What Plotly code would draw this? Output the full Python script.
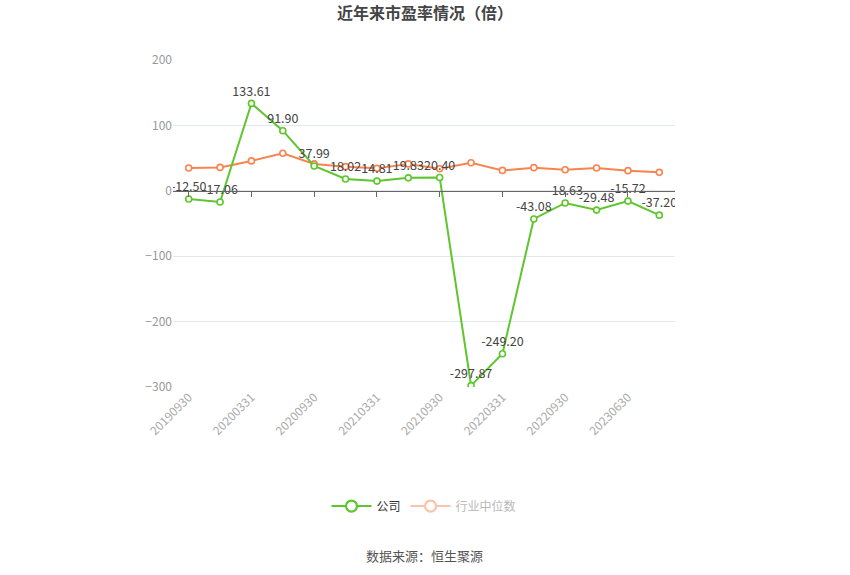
import plotly.graph_objects as go

dates = ["20190930", "20191231", "20200331", "20200630", "20200930", "20201231",
         "20210331", "20210630", "20210930", "20211231", "20220331", "20220630",
         "20220930", "20230331", "20230630", "20230930"]
company = [-12.50, -17.06, 133.61, 91.90, 37.99, 18.02, 14.81, 19.83, 20.40,
           -297.87, -249.20, -43.08, -18.63, -29.48, -15.72, -37.20]
industry = [34.9, 35.8, 45.7, 57.4, 41.1, 36.9, 34.3, 41.1, 33.8, 42.8,
            31.2, 35.4, 32.3, 34.9, 30.8, 28.2]
company_labels = [f"{v:.2f}" for v in company]
tick_labels = dates[::2]

GREEN = "#5dc62c"
ORANGE = "#f9834f"
FONT = "Noto Sans CJK SC"

fig = go.Figure()
fig.add_trace(go.Scatter(
    x=dates, y=industry, mode="lines+markers", name="行业中位数",
    line=dict(color=ORANGE, width=2),
    marker=dict(symbol="circle", size=6, color="white", line=dict(color=ORANGE, width=1.6)),
    showlegend=False, hoverinfo="x+y"))
fig.add_trace(go.Scatter(
    x=dates, y=company, mode="lines+markers+text", name="公司",
    text=company_labels, textposition="top center",
    textfont=dict(color="#444", size=12.5, family=FONT),
    line=dict(color=GREEN, width=2),
    marker=dict(symbol="circle", size=6, color="white", line=dict(color=GREEN, width=1.6)),
    showlegend=False, hoverinfo="x+y"))

# legend-only entries
fig.add_trace(go.Scatter(
    x=[None], y=[None], mode="lines+markers", name="公司",
    line=dict(color=GREEN, width=2),
    marker=dict(symbol="circle", size=11, color="white", line=dict(color=GREEN, width=2.2))))
fig.add_trace(go.Scatter(
    x=[None], y=[None], mode="lines+markers",
    name="<span style='color:#b8b8b8'>行业中位数</span>",
    line=dict(color="#fbc3ad", width=2),
    marker=dict(symbol="circle", size=11, color="white", line=dict(color="#fbc3ad", width=2.2))))

n = len(dates)
fig.update_layout(
    width=850, height=575,
    margin=dict(l=173, r=175, t=60, b=188, autoexpand=False),
    paper_bgcolor="white", plot_bgcolor="white",
    font=dict(family=FONT, color="#666"),
    title=dict(text="<b>近年来市盈率情况（倍）</b>", x=0.5, xanchor="center",
               y=1 - 13 / 575, yanchor="middle",
               font=dict(size=16, color="#444", family=FONT)),
    xaxis=dict(type="category", categoryorder="array", categoryarray=dates,
               range=[-0.5, n - 0.5], tickmode="array", tickvals=tick_labels,
               ticktext=tick_labels, tickangle=-45, showgrid=False, showline=False,
               automargin=False,
               zeroline=False, ticks="", tickfont=dict(size=12, color="#aaa", family=FONT)),
    xaxis2=dict(type="category", categoryorder="array", categoryarray=dates,
                overlaying="x", anchor="free", position=0.6, automargin=False,
                range=[-0.5, n - 0.5], tickmode="array", tickvals=tick_labels,
                showticklabels=False, showgrid=False, showline=True, linecolor="#666",
                linewidth=1, ticks="outside", ticklen=5, tickcolor="#666", zeroline=False),
    yaxis=dict(range=[-300, 200], tickvals=[-300, -200, -100, 0, 100, 200],
               showgrid=True, gridcolor="#e3e8f0", gridwidth=1, zeroline=False,
               automargin=False,
               showline=False, ticks="", tickfont=dict(size=12, color="#999", family=FONT)),
    legend=dict(orientation="h", x=0.5, xanchor="center", y=-0.364, yanchor="middle",
                font=dict(size=12, color="#333", family=FONT), itemwidth=40),
    annotations=[dict(text="数据来源：恒生聚源", x=0.5, xref="paper", xanchor="center",
                      y=-0.514, yref="paper", yanchor="middle", showarrow=False,
                      font=dict(size=13, color="#555", family=FONT))],
)
# dummy trace so the tick axis at zero is drawn
fig.add_trace(go.Scatter(x=dates, y=[None] * n, xaxis="x2", yaxis="y",
                         mode="lines", showlegend=False, hoverinfo="skip"))

fig.write_html("out.html", config={"displayModeBar": False},
               post_script="document.body.style.margin='0';document.body.style.padding='0';")
